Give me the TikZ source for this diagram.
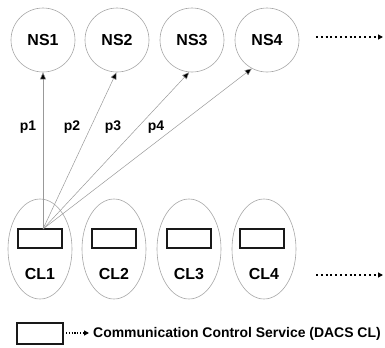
\documentclass[tikz,border=0pt]{standalone}
\usepackage{fontspec}
\setmainfont{Liberation Sans}
\usetikzlibrary{shapes.geometric,arrows.meta}
\tikzset{
  nscirc/.style={circle, draw=black!35, line width=0.6bp, minimum size=64bp, inner sep=0pt,
                 font=\fontsize{16}{18}\selectfont\bfseries},
  clell/.style={ellipse, draw=black!35, line width=0.6bp, minimum width=64bp, minimum height=100bp, inner sep=0pt},
  svcbox/.style={rectangle, draw=black!90, line width=2bp, minimum width=44bp, minimum height=19bp, inner sep=0pt},
  cllabel/.style={font=\fontsize{16}{18}\selectfont\bfseries},
  plabel/.style={font=\fontsize{14}{16}\selectfont\bfseries},
  link/.style={draw=black!40, line width=0.5bp, -{Triangle[length=7bp,width=6bp,fill=black]}},
  more/.style={line width=2.4bp, dash pattern=on 2bp off 2.8bp,
               -{Triangle[length=5bp,width=5bp]}},
  legendtext/.style={font=\fontsize{14}{16}\selectfont\bfseries, anchor=west, inner sep=0pt}
}
\begin{document}
\begin{tikzpicture}[x=1bp, y=-1bp]
  \useasboundingbox (0,0) rectangle (385,348);

  % name servers
  \node[nscirc] (ns1) at (43,40)  {NS1};
  \node[nscirc] (ns2) at (117,40) {NS2};
  \node[nscirc] (ns3) at (192,40) {NS3};
  \node[nscirc] (ns4) at (267,40) {NS4};
  \coordinate (nsa) at (316,37);
  \coordinate (nsb) at (383,37);
  \draw[more] (nsa) -- (nsb);

  % clients
  \node[clell] (cl1) at (40,249)  {};
  \node[clell] (cl2) at (114,249) {};
  \node[clell] (cl3) at (189,249) {};
  \node[clell] (cl4) at (264,249) {};
  \node[svcbox] (s1) at (40,238)  {};
  \node[svcbox] (s2) at (114,238) {};
  \node[svcbox] (s3) at (189,238) {};
  \node[svcbox] (s4) at (262,238) {};
  \node[cllabel] (t1) at (40,274)  {CL1};
  \node[cllabel] (t2) at (114,274) {CL2};
  \node[cllabel] (t3) at (189,274) {CL3};
  \node[cllabel] (t4) at (264,274) {CL4};
  \coordinate (cla) at (316,275);
  \coordinate (clb) at (383,275);
  \draw[more] (cla) -- (clb);

  % paths from the CL1 service to each name server
  \coordinate (src) at (43,229);
  \draw[link] (src) -- (ns1.south);
  \draw[link] (src) -- (ns2.-91);
  \draw[link] (src) -- (ns3.-95);
  \draw[link] (src) -- (ns4.-118);
  \node[plabel] (p1) at (28,127)  {p1};
  \node[plabel] (p2) at (72,127)  {p2};
  \node[plabel] (p3) at (113,127) {p3};
  \node[plabel] (p4) at (156,127) {p4};

  % legend
  \node[svcbox, minimum width=45bp, minimum height=21bp] (lg) at (40,333) {};
  \coordinate (lga) at (66,333);
  \coordinate (lgb) at (89,333);
  \draw[more, line width=1.4bp, dash pattern=on 1.2bp off 1.6bp] (lga) -- (lgb);
  \node[legendtext] (lgt) at (93,334) {Communication Control Service (DACS CL)};
\end{tikzpicture}
\end{document}
